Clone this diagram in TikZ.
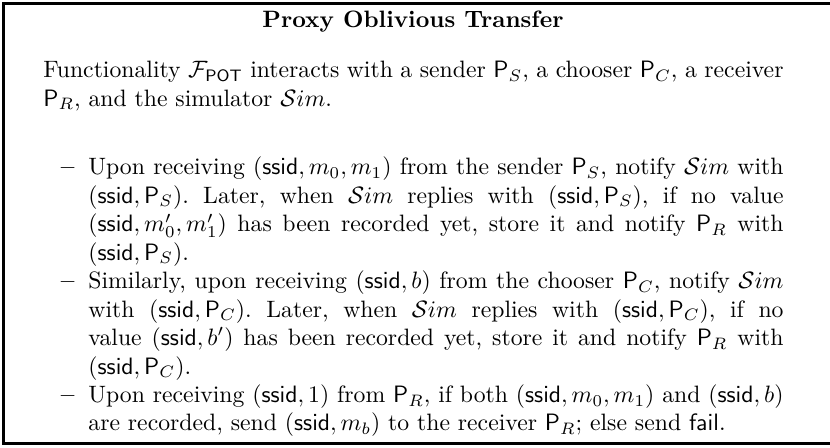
\documentclass[tikz,border=0pt]{standalone}
\usepackage{amsfonts, amssymb, amsmath}
\usepackage{tikz}
\tikzset{t/.style={inner sep=0pt, anchor=base west, align=justify, execute at begin node=\frenchspacing}}
\tikzset{d/.style={inner sep=0pt, anchor=base east, font=\bfseries}}
\tikzset{frame/.style={line width=1.3pt}}
\newcommand{\sid}{\mathsf{ssid}}
\newcommand{\Sm}{\mathcal{S}im}

\begin{document}
\begin{tikzpicture}[x=1pt,y=1pt]
    \useasboundingbox (0,0) rectangle (350.2,-188.6);
    \draw[frame] (350.2,-1.3) -- (1.5,-1.3) -- (1.5,-187.3) -- (350.2,-187.3);
    \node [inner sep=0pt, anchor=base] (title) at (174.25,-11.8) {\textbf{Proxy Oblivious Transfer}};
    \node [t, text width=312.3pt] (intro) at (18.1,-32.9) {Functionality $\mathcal{F}_{\mathsf{POT}}$ interacts with a sender $\mathsf{P}_S$, a chooser $\mathsf{P}_C$, a receiver\linebreak $\mathsf{P}_R$, and the simulator $\Sm$.};
    \node [d] (d1) at (31.6,-73.8) {--};
    \node [t, text width=293.3pt] (i1) at (37.1,-73.8) {Upon receiving $(\sid, m_0, m_1)$ from the sender $\mathsf{P}_S$, notify $\Sm$ with\linebreak $(\sid, \mathsf{P}_S)$. Later, when $\Sm$ replies with $(\sid, \mathsf{P}_S)$, if no value\linebreak $(\sid, m_0', m_1')$ has been recorded yet, store it and notify $\mathsf{P}_R$ with\linebreak $(\sid, \mathsf{P}_S)$.};
    \node [d] (d2) at (31.6,-121.8) {--};
    \node [t, text width=293.3pt] (i2) at (37.1,-121.8) {Similarly, upon receiving $(\sid, b)$ from the chooser $\mathsf{P}_C$, notify $\Sm$\linebreak with $(\sid, \mathsf{P}_C)$. Later, when $\Sm$ replies with $(\sid, \mathsf{P}_C)$, if no\linebreak value $(\sid, b')$ has been recorded yet, store it and notify $\mathsf{P}_R$ with\linebreak $(\sid, \mathsf{P}_C)$.};
    \node [d] (d3) at (31.6,-169.8) {--};
    \node [t, text width=293.3pt] (i3) at (37.1,-169.8) {Upon receiving $(\sid, 1)$ from $\mathsf{P}_R$, if both $(\sid, m_0, m_1)$ and $(\sid, b)$\linebreak are recorded, send $(\sid, m_b)$ to the receiver $\mathsf{P}_R$; else send $\mathsf{fail}$.};
\end{tikzpicture}
\end{document}
